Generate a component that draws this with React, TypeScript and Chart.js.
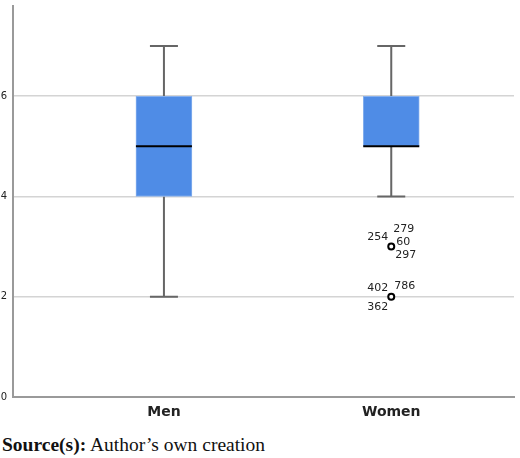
import React, { useEffect, useRef } from "react";
import { Chart, registerables } from "chart.js";

Chart.register(...registerables);

const categories = ["Men", "Women"];
const whiskerLow = [2, 4];
const q1 = [4, 5];
const median = [5, 5];
const q3 = [6, 6];
const whiskerHigh = [7, 7];
const yTicks = [0, 2, 4, 6];

const outlierCategory = [1, 1];
const outlierValues = [3, 2];
const outlierLabels = [
  ["254", "279", "60", "297"],
  ["402", "786", "362"],
];

// label layout offsets (style): [dx, dy, align]
const labelLayouts: [number, number, CanvasTextAlign][][] = [
  [
    [-3, -9, "right"],
    [2, -17, "left"],
    [5, -4, "left"],
    [4, 8.5, "left"],
  ],
  [
    [-3, -9, "right"],
    [3, -11, "left"],
    [-3, 10, "right"],
  ],
];

const boxPlugin = {
  id: "boxParts",
  beforeDatasetsDraw(chart: any) {
    const { ctx, scales } = chart;
    const xs = scales.x;
    const ys = scales.y;
    ctx.save();
    ctx.strokeStyle = "#666";
    ctx.lineWidth = 2;
    categories.forEach((_, i) => {
      const x = xs.getPixelForValue(i + 1);
      ctx.beginPath();
      ctx.moveTo(x, ys.getPixelForValue(q3[i]));
      ctx.lineTo(x, ys.getPixelForValue(whiskerHigh[i]));
      ctx.moveTo(x, ys.getPixelForValue(q1[i]));
      ctx.lineTo(x, ys.getPixelForValue(whiskerLow[i]));
      ctx.stroke();
      ctx.beginPath();
      ctx.moveTo(x - 14, ys.getPixelForValue(whiskerHigh[i]));
      ctx.lineTo(x + 14, ys.getPixelForValue(whiskerHigh[i]));
      ctx.moveTo(x - 14, ys.getPixelForValue(whiskerLow[i]));
      ctx.lineTo(x + 14, ys.getPixelForValue(whiskerLow[i]));
      ctx.stroke();
    });
    ctx.restore();
  },
  afterDatasetsDraw(chart: any) {
    const { ctx, scales } = chart;
    const xs = scales.x;
    const ys = scales.y;
    ctx.save();
    ctx.strokeStyle = "#000";
    ctx.lineWidth = 2;
    categories.forEach((_, i) => {
      const x = xs.getPixelForValue(i + 1);
      const y = ys.getPixelForValue(median[i]);
      ctx.beginPath();
      ctx.moveTo(x - 28, y);
      ctx.lineTo(x + 28, y);
      ctx.stroke();
    });
    ctx.fillStyle = "#222";
    ctx.font = "11px 'DejaVu Sans'";
    ctx.textBaseline = "middle";
    outlierValues.forEach((v, k) => {
      const px = xs.getPixelForValue(outlierCategory[k] + 1);
      const py = ys.getPixelForValue(v);
      outlierLabels[k].forEach((t, j) => {
        const [dx, dy, al] = labelLayouts[k][j];
        ctx.textAlign = al;
        ctx.fillText(t, px + dx, py + dy);
      });
    });
    ctx.restore();
  },
};

export default function App() {
  const ref = useRef<HTMLCanvasElement | null>(null);
  useEffect(() => {
    if (!ref.current) return;
    const chart = new Chart(ref.current, {
      type: "bar",
      data: {
        datasets: [
          {
            type: "bar",
            data: categories.map((_, i) => ({ x: i + 1, y: [q1[i], q3[i]] })) as any,
            backgroundColor: "#4f8ce6",
            borderColor: "#86b0ee",
            borderWidth: 1,
            borderSkipped: false,
            barThickness: 56,
            grouped: false,
            order: 2,
          } as any,
          {
            type: "scatter",
            data: outlierValues.map((v, k) => ({ x: outlierCategory[k] + 1, y: v })),
            pointRadius: 3,
            pointBorderWidth: 2,
            pointBorderColor: "#000",
            pointBackgroundColor: "#fff",
            order: 1,
          } as any,
        ],
      },
      options: {
        animation: false,
        responsive: false,
        events: [],
        layout: { padding: { top: 4, right: 2, left: 0, bottom: 0 } },
        plugins: { legend: { display: false }, tooltip: { enabled: false } },
        scales: {
          x: {
            type: "linear",
            offset: false,
            min: 0.336,
            max: 2.54,
            afterBuildTicks: (s: any) => {
              s.ticks = categories.map((_, i) => ({ value: i + 1 }));
            },
            afterFit: (s: any) => {
              s.height = 28;
              s.paddingLeft = 0;
              s.paddingRight = 0;
            },
            grid: { display: false, drawTicks: false, offset: false },
            border: { display: true, color: "#9a9a9a", width: 2 },
            ticks: {
              padding: 7,
              autoSkip: false,
              maxRotation: 0,
              color: "#222",
              font: { family: "'DejaVu Sans'", size: 14, weight: "bold" },
              callback: (v: any) => categories[Number(v) - 1] ?? "",
            },
          },
          y: {
            min: 0,
            max: 7.8,
            afterBuildTicks: (s: any) => {
              s.ticks = yTicks.map((v) => ({ value: v }));
            },
            afterFit: (s: any) => {
              s.width = 13;
              s.paddingTop = 0;
              s.paddingBottom = 0;
            },
            grid: { color: "#d4d4d4", lineWidth: 1.5, drawTicks: false },
            border: { display: true, color: "#9a9a9a", width: 2 },
            ticks: {
              padding: 6,
              color: "#222",
              font: { family: "'DejaVu Sans'", size: 10 },
            },
          },
        },
      } as any,
      plugins: [boxPlugin],
    });
    return () => chart.destroy();
  }, []);

  return (
    <div style={{ position: "absolute", left: 0, top: 0, width: 520, height: 458, background: "#fff" }}>
      <canvas ref={ref} width={520} height={425} style={{ display: "block", width: 520, height: 425 }} />
      <div
        style={{
          position: "absolute",
          left: 2,
          top: 434,
          fontFamily: "'Liberation Serif', 'Times New Roman', serif",
          fontSize: 19.5,
          color: "#111",
          whiteSpace: "nowrap",
        }}
      >
        <b>Source(s):</b> Author’s own creation
      </div>
    </div>
  );
}
